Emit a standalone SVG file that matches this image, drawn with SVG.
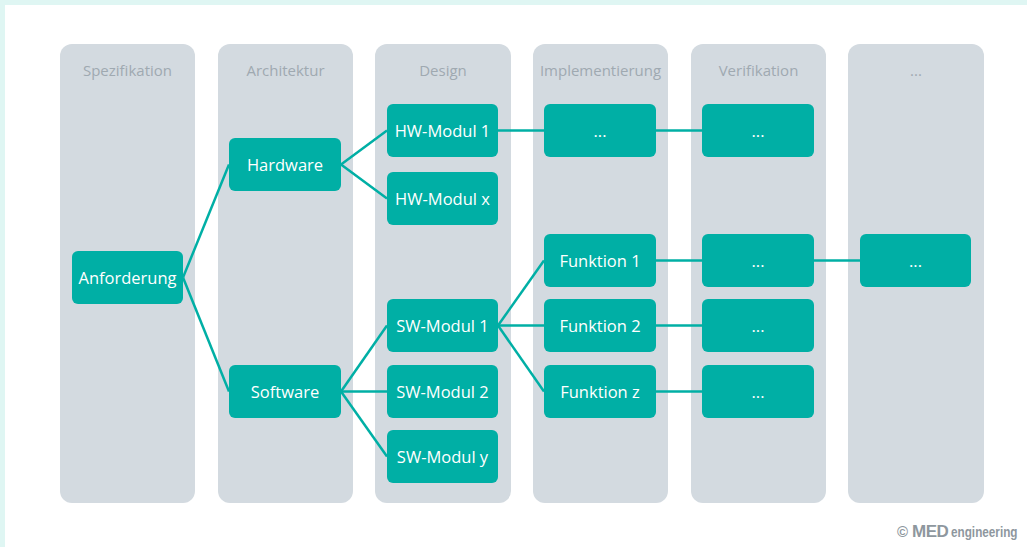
<svg xmlns="http://www.w3.org/2000/svg" width="1027" height="547" viewBox="0 0 1027 547">
<style>
.col{fill:#d3dae0}
.hd{font-family:"Open Sans","Noto Sans",sans-serif;font-size:15px;fill:#9fa9b1;text-anchor:middle}
.nd{fill:#00afa5}
.nt{font-family:"Open Sans","Noto Sans",sans-serif;font-size:16.5px;fill:#ffffff;text-anchor:middle;dominant-baseline:central}
.cn{stroke:#00afa5;stroke-width:2.5;fill:none}
.cp{font-family:"Liberation Sans",Arial,sans-serif;fill:#8e979e;font-weight:bold}
</style>
<rect x="0" y="0" width="1027" height="547" fill="#ffffff"/>
<rect x="0" y="0" width="1027" height="5" fill="#dff6f3"/>
<rect x="0" y="0" width="5" height="547" fill="#dff6f3"/>
<g id="columns">
<rect class="col" x="60" y="44" width="135" height="459" rx="12"/>
<rect class="col" x="218" y="44" width="135" height="459" rx="12"/>
<rect class="col" x="375" y="44" width="136" height="459" rx="12"/>
<rect class="col" x="533" y="44" width="135" height="459" rx="12"/>
<rect class="col" x="691" y="44" width="135" height="459" rx="12"/>
<rect class="col" x="848" y="44" width="136" height="459" rx="12"/>
<text class="hd" x="127.5" y="76">Spezifikation</text>
<text class="hd" x="285.5" y="76">Architektur</text>
<text class="hd" x="443" y="76">Design</text>
<text class="hd" x="600.5" y="76">Implementierung</text>
<text class="hd" x="758.5" y="76">Verifikation</text>
<text class="hd" x="916" y="76">...</text>
</g>
<g id="connectors">
<line class="cn" x1="183" y1="277.5" x2="229" y2="164.5"/>
<line class="cn" x1="183" y1="277.5" x2="229" y2="391.5"/>
<line class="cn" x1="341" y1="164.5" x2="387" y2="130.5"/>
<line class="cn" x1="341" y1="164.5" x2="387" y2="198.5"/>
<line class="cn" x1="341" y1="391.5" x2="387" y2="325.5"/>
<line class="cn" x1="341" y1="391.5" x2="387" y2="391.5"/>
<line class="cn" x1="341" y1="391.5" x2="387" y2="456.5"/>
<line class="cn" x1="498" y1="325.5" x2="544" y2="260.5"/>
<line class="cn" x1="498" y1="325.5" x2="544" y2="325.5"/>
<line class="cn" x1="498" y1="325.5" x2="544" y2="391.5"/>
<line class="cn" x1="498" y1="130.5" x2="544" y2="130.5"/>
<line class="cn" x1="656" y1="130.5" x2="702" y2="130.5"/>
<line class="cn" x1="656" y1="260.5" x2="702" y2="260.5"/>
<line class="cn" x1="656" y1="325.5" x2="702" y2="325.5"/>
<line class="cn" x1="656" y1="391.5" x2="702" y2="391.5"/>
<line class="cn" x1="814" y1="260.5" x2="860" y2="260.5"/>
</g>
<g id="n-anforderung"><rect class="nd" x="72" y="251" width="111" height="53" rx="6"/><text class="nt" x="127.5" y="277">Anforderung</text></g>
<g id="n-hardware"><rect class="nd" x="229" y="138" width="112" height="53" rx="6"/><text class="nt" x="285" y="164">Hardware</text></g>
<g id="n-software"><rect class="nd" x="229" y="365" width="112" height="53" rx="6"/><text class="nt" x="285" y="391">Software</text></g>
<g id="n-hw1"><rect class="nd" x="387" y="104" width="111" height="53" rx="6"/><text class="nt" x="442.5" y="130">HW-Modul 1</text></g>
<g id="n-hwx"><rect class="nd" x="387" y="172" width="111" height="53" rx="6"/><text class="nt" x="442.5" y="198">HW-Modul x</text></g>
<g id="n-sw1"><rect class="nd" x="387" y="299" width="111" height="53" rx="6"/><text class="nt" x="442.5" y="325">SW-Modul 1</text></g>
<g id="n-sw2"><rect class="nd" x="387" y="365" width="111" height="53" rx="6"/><text class="nt" x="442.5" y="391">SW-Modul 2</text></g>
<g id="n-swy"><rect class="nd" x="387" y="430" width="111" height="53" rx="6"/><text class="nt" x="442.5" y="456">SW-Modul y</text></g>
<g id="n-impl"><rect class="nd" x="544" y="104" width="112" height="53" rx="6"/><text class="nt" x="600" y="130">...</text></g>
<g id="n-f1"><rect class="nd" x="544" y="234" width="112" height="53" rx="6"/><text class="nt" x="600" y="260">Funktion 1</text></g>
<g id="n-f2"><rect class="nd" x="544" y="299" width="112" height="53" rx="6"/><text class="nt" x="600" y="325">Funktion 2</text></g>
<g id="n-fz"><rect class="nd" x="544" y="365" width="112" height="53" rx="6"/><text class="nt" x="600" y="391">Funktion z</text></g>
<g id="n-v1"><rect class="nd" x="702" y="104" width="112" height="53" rx="6"/><text class="nt" x="758" y="130">...</text></g>
<g id="n-v2"><rect class="nd" x="702" y="234" width="112" height="53" rx="6"/><text class="nt" x="758" y="260">...</text></g>
<g id="n-v3"><rect class="nd" x="702" y="299" width="112" height="53" rx="6"/><text class="nt" x="758" y="325">...</text></g>
<g id="n-v4"><rect class="nd" x="702" y="365" width="112" height="53" rx="6"/><text class="nt" x="758" y="391">...</text></g>
<g id="n-last"><rect class="nd" x="860" y="234" width="111" height="53" rx="6"/><text class="nt" x="915.5" y="260">...</text></g>
<text class="cp" x="897" y="537" font-size="15" font-weight="normal">©</text>
<text class="cp" x="912" y="537" font-size="17" letter-spacing="-0.5">MED</text>
<text class="cp" transform="translate(951,537) scale(0.84,1)" font-size="14">engineering</text>
</svg>
